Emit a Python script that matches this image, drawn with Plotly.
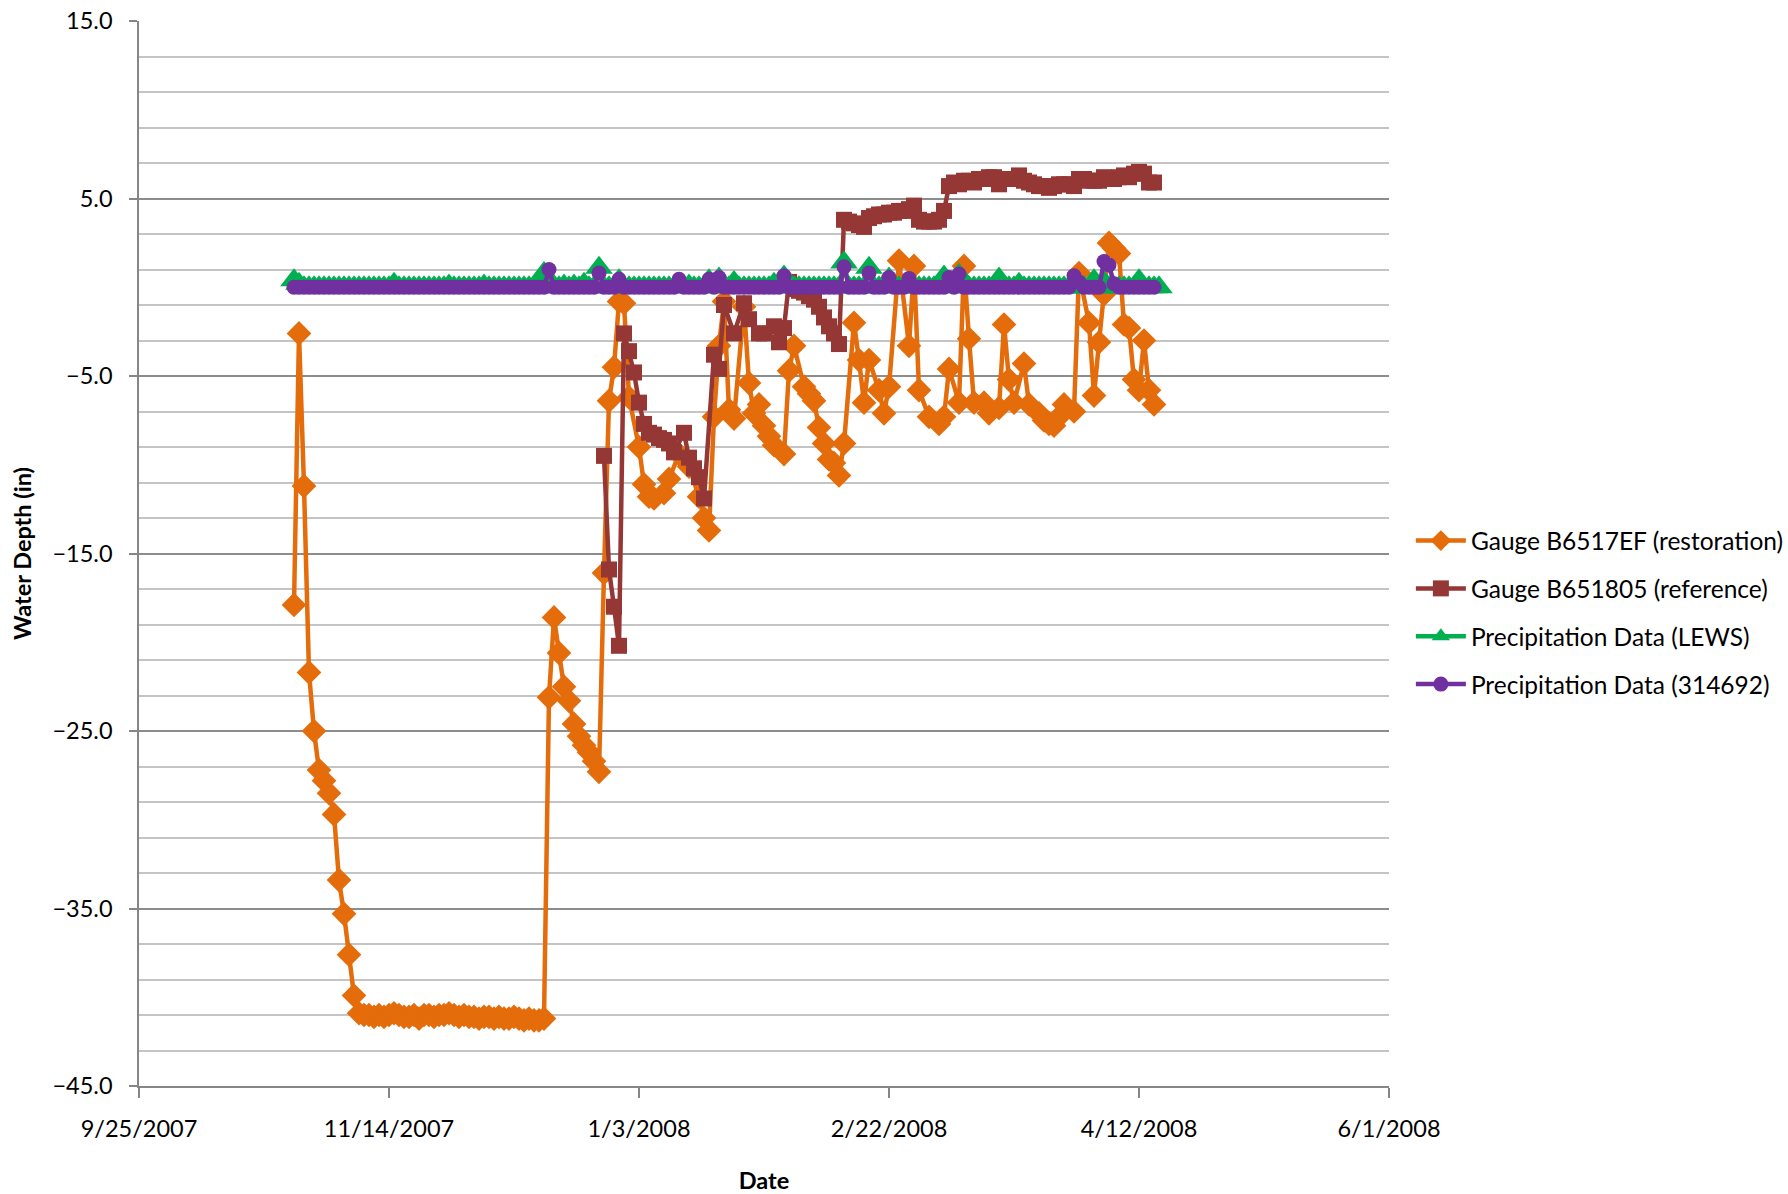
import pandas as pd
import plotly.graph_objects as go

START = pd.Timestamp("2007-09-25")

# (day offset from 9/25/2007, water depth in inches)
gauge_restoration = [
    (31, -17.9), (32, -2.6), (33, -11.2), (34, -21.7), (35, -25.0), (36, -27.2), (37, -27.8),
    (38, -28.5), (39, -29.7), (40, -33.4), (41, -35.3), (42, -37.6), (43, -39.9),
    (44, -40.9), (45, -41.0), (46, -41.0), (47, -41.1), (48, -41.0), (49, -41.1), (50, -41.0),
    (51, -40.9), (52, -41.0), (53, -41.1), (54, -41.1), (55, -41.0), (56, -41.2), (57, -41.0),
    (58, -41.0), (59, -41.1), (60, -41.0), (61, -41.0), (62, -40.9), (63, -41.0), (64, -41.1),
    (65, -41.0), (66, -41.1), (67, -41.1), (68, -41.2), (69, -41.1), (70, -41.1), (71, -41.2),
    (72, -41.1), (73, -41.2), (74, -41.2), (75, -41.1), (76, -41.2), (77, -41.3), (78, -41.2),
    (79, -41.3), (80, -41.3), (81, -41.2),
    (82, -23.1), (83, -18.6), (84, -20.6), (85, -22.5), (86, -23.3), (87, -24.6), (88, -25.3),
    (89, -25.8), (90, -26.2), (91, -26.7), (92, -27.3), (93, -16.1), (94, -6.4), (95, -4.5),
    (96, -0.8), (97, -0.9), (98, -6.2), (100, -9.0), (101, -11.1), (102, -11.8), (103, -11.9),
    (105, -11.6), (106, -10.8), (108, -9.4), (110, -10.1), (112, -11.8), (113, -13.0),
    (114, -13.7), (115, -7.3), (116, -3.3), (117, -0.8), (118, -6.9), (119, -7.4), (121, -1.1),
    (122, -5.4), (123, -7.1), (124, -6.6), (125, -7.8), (126, -8.4), (127, -8.9), (129, -9.4),
    (130, -4.7), (131, -3.3), (133, -5.6), (134, -6.0), (135, -6.4), (136, -7.9), (137, -8.8),
    (138, -9.7), (139, -9.9), (140, -10.6), (141, -8.8), (143, -2.0), (144, -4.1), (145, -6.5),
    (146, -4.1), (148, -5.8), (149, -7.1), (150, -5.6), (152, 1.5), (154, -3.3), (155, 1.2),
    (156, -5.8), (158, -7.3), (160, -7.7), (161, -7.3), (162, -4.6), (164, -6.5), (165, 1.2),
    (166, -2.9), (167, -6.5), (169, -6.5), (170, -7.1), (172, -6.8), (173, -2.1), (174, -5.2),
    (175, -6.5), (177, -4.3), (178, -6.6), (180, -7.1), (181, -7.5), (182, -7.7), (183, -7.8),
    (184, -7.3), (185, -6.6), (187, -7.0), (188, 0.8), (190, -2.0), (191, -6.1), (192, -3.1),
    (193, -0.4), (194, 2.5), (195, 2.2), (196, 1.9), (197, -2.1), (198, -2.3), (199, -5.2),
    (200, -5.8), (201, -3.0), (202, -5.8), (203, -6.6),
]

gauge_reference = [
    (93, -9.5), (94, -15.9), (95, -18.0), (96, -20.2), (97, -2.6), (98, -3.6), (99, -4.8),
    (100, -6.5), (101, -7.7), (102, -8.2), (103, -8.3), (104, -8.5), (105, -8.6), (106, -8.8),
    (107, -9.3), (109, -8.2), (110, -9.6), (111, -10.2), (112, -10.7), (113, -11.9), (115, -3.8),
    (116, -4.6), (117, -1.0), (119, -2.6), (121, -0.9), (122, -1.8), (124, -2.6), (125, -2.6),
    (127, -2.2), (128, -3.1), (129, -2.3), (130, 0.3), (131, -0.1), (132, -0.2), (133, -0.3),
    (134, -0.5), (135, -0.7), (136, -1.1), (137, -1.7), (138, -2.2), (139, -2.6), (140, -3.2),
    (141, 3.8), (142, 3.7), (143, 3.6), (144, 3.5), (145, 3.4), (146, 3.9), (147, 4.0),
    (148, 4.1), (149, 4.1), (150, 4.2), (151, 4.2), (152, 4.3), (153, 4.3), (154, 4.4),
    (155, 4.6), (156, 3.8), (157, 3.7), (158, 3.7), (159, 3.7), (160, 3.8), (161, 4.3),
    (162, 5.7), (163, 5.9), (164, 5.8), (165, 6.0), (166, 6.0), (167, 5.9), (168, 6.1),
    (169, 6.1), (170, 6.2), (171, 6.2), (172, 5.8), (173, 6.1), (174, 6.1), (175, 6.1),
    (176, 6.3), (177, 6.0), (178, 5.9), (179, 5.8), (180, 5.7), (181, 5.7), (182, 5.6),
    (183, 5.7), (184, 5.8), (185, 5.8), (186, 5.8), (187, 5.7), (188, 6.1), (189, 6.1),
    (190, 6.0), (191, 6.0), (192, 6.0), (193, 6.2), (194, 6.1), (195, 6.1), (196, 6.2),
    (197, 6.3), (198, 6.2), (199, 6.4), (200, 6.5), (201, 6.4), (202, 5.9), (203, 5.9),
]

# daily precipitation, starting 10/26/2007
precip_start = "2007-10-26"
precip_lews = [
    0.4, 0.2, 0, 0, 0, 0, 0, 0, 0, 0,
    0, 0, 0, 0, 0, 0, 0, 0, 0, 0,
    0.2, 0, 0, 0, 0, 0, 0, 0, 0, 0,
    0, 0.1, 0, 0, 0, 0, 0, 0, 0.1, 0,
    0, 0, 0, 0, 0, 0, 0, 0, 0, 0,
    0.8, 0.2, 0, 0, 0.1, 0, 0.1, 0, 0.2, 0,
    0, 1.1, 0, 0, 0, 0.4, 0, 0, 0, 0,
    0, 0, 0, 0, 0, 0, 0, 0, 0, 0.1,
    0, 0, 0, 0.4, 0, 0.5, 0, 0, 0.3, 0,
    0, 0, 0, 0, 0, 0, 0.2, 0, 0.6, 0,
    0, 0, 0, 0, 0, 0, 0, 0, 0, 0,
    1.4, 0, 0, 0, 0, 1.1, 0, 0, 0, 0.5,
    0, 0, 0, 0, 0, 0, 0, 0, 0, 0,
    0.6, 0.3, 0, 0.7, 0, 0, 0, 0, 0, 0,
    0, 0.5, 0, 0, 0, 0.2, 0, 0, 0, 0,
    0, 0, 0, 0, 0, 0, 0, 0, 0, 0,
    0.4, 0, 0.3, 0, 0, 0, 0, 0, 0, 0.4,
    0, 0, 0, 0,
]
precip_314692 = [
    0, 0, 0, 0, 0, 0, 0, 0, 0, 0,
    0, 0, 0, 0, 0, 0, 0, 0, 0, 0,
    0, 0, 0, 0, 0, 0, 0, 0, 0, 0,
    0, 0, 0, 0, 0, 0, 0, 0, 0, 0,
    0, 0, 0, 0, 0, 0, 0, 0, 0, 0,
    0, 1.0, 0, 0, 0, 0, 0, 0, 0, 0,
    0, 0.8, 0, 0, 0, 0.45, 0, 0, 0, 0,
    0, 0, 0, 0, 0, 0, 0, 0.45, 0, 0,
    0, 0, 0, 0.45, 0, 0.55, 0, 0, 0, 0,
    0, 0, 0, 0, 0, 0, 0, 0, 0.65, 0,
    0, 0, 0, 0, 0, 0, 0, 0, 0, 0,
    1.15, 0, 0, 0, 0, 0.8, 0, 0, 0, 0.55,
    0, 0, 0, 0.5, 0, 0, 0, 0, 0, 0,
    0, 0.55, 0, 0.75, 0, 0, 0, 0, 0, 0,
    0, 0, 0, 0, 0, 0, 0, 0, 0, 0,
    0, 0, 0, 0, 0, 0, 0.65, 0.3, 0, 0,
    0, 0, 1.45, 1.25, 0.2, 0, 0, 0, 0, 0,
    0, 0, 0,
]

x_tick_dates = ["2007-09-25", "2007-11-14", "2008-01-03", "2008-02-22", "2008-04-12", "2008-06-01"]
x_tick_labels = ["9/25/2007", "11/14/2007", "1/3/2008", "2/22/2008", "4/12/2008", "6/1/2008"]
y_tick_values = [-45, -35, -25, -15, -5, 5, 15]

series_names = ["Gauge B6517EF (restoration)", "Gauge B651805 (reference)",
                "Precipitation Data (LEWS)", "Precipitation Data (314692)"]
series_colors = ["#E46C0A", "#953735", "#00B050", "#7030A0"]


def to_dates(pairs):
    return [START + pd.Timedelta(days=d) for d, _ in pairs], [v for _, v in pairs]


FONT = "Lato, 'Liberation Sans', sans-serif"
fig = go.Figure()

x1, y1 = to_dates(gauge_restoration)
fig.add_trace(go.Scatter(x=x1, y=y1, mode="lines+markers", name=series_names[0],
                         legendgroup="a",
                         line=dict(color=series_colors[0], width=4.5),
                         marker=dict(symbol="diamond", size=19, color=series_colors[0])))
x2, y2 = to_dates(gauge_reference)
fig.add_trace(go.Scatter(x=x2, y=y2, mode="lines+markers", name=series_names[1],
                         legendgroup="b",
                         line=dict(color=series_colors[1], width=4.5),
                         marker=dict(symbol="square", size=16, color=series_colors[1])))
x3 = pd.date_range(precip_start, periods=len(precip_lews), freq="D")
fig.add_trace(go.Scatter(x=x3, y=precip_lews, mode="lines+markers", name=series_names[2],
                         legendgroup="c",
                         line=dict(color=series_colors[2], width=4.5),
                         marker=dict(symbol="triangle-up", size=24, color=series_colors[2])))
x4 = pd.date_range(precip_start, periods=len(precip_314692), freq="D")
fig.add_trace(go.Scatter(x=x4, y=precip_314692, mode="lines+markers", name=series_names[3],
                         legendgroup="d",
                         line=dict(color=series_colors[3], width=4.5),
                         marker=dict(symbol="circle", size=15, color=series_colors[3])))

fig.update_layout(
    width=1788, height=1194,
    margin=dict(l=139, r=399, t=21, b=108, autoexpand=False),
    paper_bgcolor="white", plot_bgcolor="white",
    font=dict(family=FONT, size=23, color="#000000"),
    showlegend=True,
    legend=dict(x=1.0175, xanchor="left", y=0.4445, yanchor="middle",
                font=dict(family=FONT, size=24.5, color="#000000"),
                itemwidth=50, tracegroupgap=13, bgcolor="rgba(0,0,0,0)",
                traceorder="grouped"),
    xaxis=dict(
        type="date",
        range=["2007-09-25", "2008-06-01"],
        tickmode="array", tickvals=x_tick_dates, ticktext=x_tick_labels,
        showgrid=False, zeroline=False,
        showline=True, linecolor="#868686", linewidth=2,
        ticks="outside", ticklen=10, tickwidth=1.5, tickcolor="#868686",
        ticklabelstandoff=11,
        tickfont=dict(family=FONT, size=23.5, color="#000000"),
        title=dict(text="<b>Date</b>", standoff=37,
                   font=dict(family=FONT, size=23.5, color="#000000")),
        automargin=False,
    ),
    yaxis=dict(
        range=[-45, 15],
        tickmode="array", tickvals=y_tick_values, tickformat=".1f",
        showgrid=True, gridcolor="#8C8C8C", gridwidth=1.5,
        minor=dict(tick0=-45, dtick=2, showgrid=True, gridcolor="#C4C4C4", gridwidth=1.5,
                   ticks=""),
        zeroline=False,
        showline=True, linecolor="#868686", linewidth=1.5,
        ticks="outside", ticklen=8, tickwidth=1.5, tickcolor="#868686",
        ticklabelstandoff=12,
        tickfont=dict(family=FONT, size=23.5, color="#000000"),
        title=dict(text="<b>Water Depth (in)</b>", standoff=14,
                   font=dict(family=FONT, size=23.5, color="#000000")),
        automargin=False,
    ),
)

fig.write_html("out.html", config={"displayModeBar": False},
               post_script="document.body.style.margin='0';")
